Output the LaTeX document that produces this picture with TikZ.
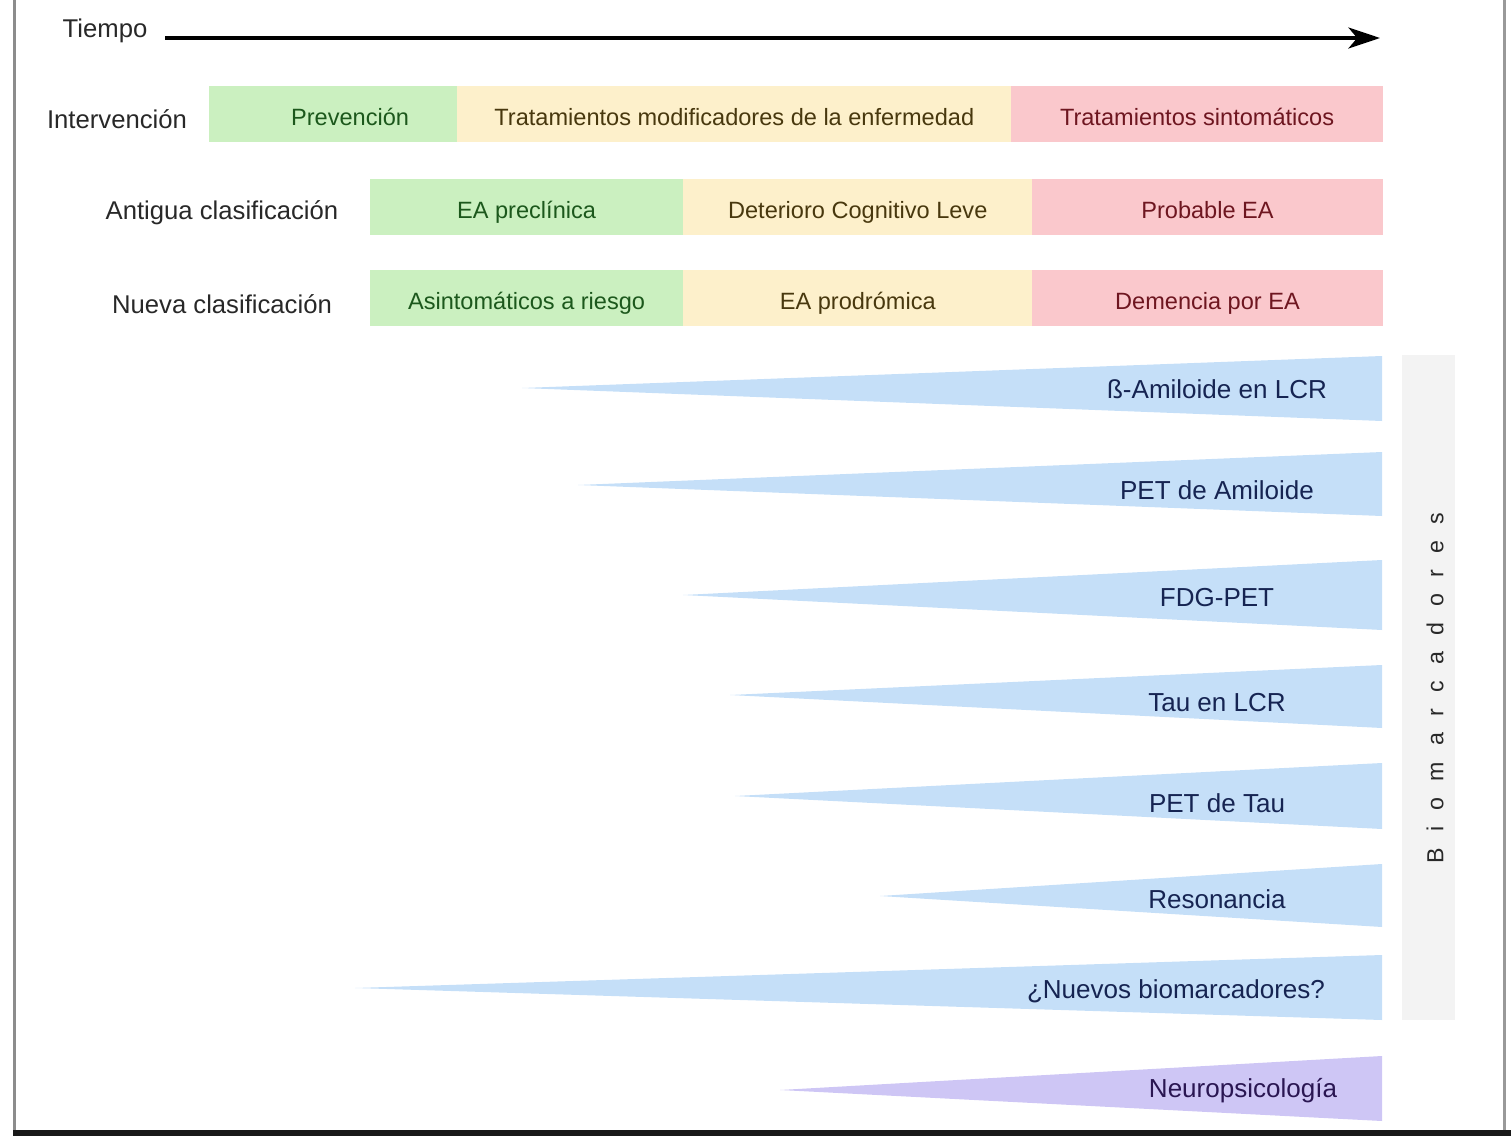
\documentclass[tikz,border=0pt]{standalone}
\usepackage{fontspec}
\setmainfont{Liberation Sans}
\usetikzlibrary{arrows,arrows.meta,positioning,calc}

\definecolor{bandgreen}{RGB}{203,240,192}
\definecolor{bandyellow}{RGB}{253,240,203}
\definecolor{bandred}{RGB}{250,200,204}
\definecolor{markblue}{RGB}{197,223,248}
\definecolor{markpurple}{RGB}{206,198,245}
\definecolor{panelgray}{RGB}{243,243,243}
\definecolor{textgreen}{RGB}{28,88,28}
\definecolor{textyellow}{RGB}{72,56,14}
\definecolor{textred}{RGB}{110,22,32}
\definecolor{textblue}{RGB}{22,36,82}
\definecolor{textpurple}{RGB}{42,22,82}
\definecolor{labelgray}{RGB}{40,40,40}

\begin{document}
\begin{tikzpicture}[
  x=0.01cm, y=-0.01cm,
  every node/.style={align=center,inner sep=0pt,outer sep=0pt},
  label/.style={font=\fontsize{7.3}{9}\selectfont,text=labelgray},
  band/.style={anchor=west,minimum height=0.56cm,text height=7.3pt,text depth=0.8pt,
    font=\fontsize{6.7}{8}\selectfont},
  green band/.style={band,fill=bandgreen,text=textgreen},
  yellow band/.style={band,fill=bandyellow,text=textyellow},
  red band/.style={band,fill=bandred,text=textred},
  marker/.style={font=\fontsize{7.4}{9}\selectfont,text=textblue},
  to/.style={->,>={Stealth[length=9pt,width=6pt,inset=2.5pt]},line width=0.9pt}]

  \useasboundingbox (0,0) rectangle (1511,1136);

  % Rahmen
  \fill[black!45] (13,0) rectangle (16,1130);
  \fill[black!40] (1503,0) rectangle (1506,1130);
  \fill[black!90] (13,1130) rectangle (1511,1136);

  % Zeitachse
  \node[label] (tiempo) at (105,31) {Tiempo};
  \coordinate (tstart) at (165,38);
  \coordinate (tend) at (1380,38);
  \draw[to] (tstart) -- (tend);

  % Intervention
  \node[label] (interv) at (117,119) {Intervención};
  \node[green band, minimum width=2.48cm] (prev) at (209,114)
      {\hspace*{0.34cm}Prevención};
  \node[yellow band, minimum width=5.54cm, right=0pt of prev] (modif)
      {Tratamientos modificadores de la enfermedad};
  \node[red band, minimum width=3.71cm, right=0pt of modif] (sint)
      {Tratamientos sintomáticos};

  % alte Klassifikation
  \node[label] (antigua) at (222,213) {Antigua clasificación};
  \node[green band, minimum width=3.13cm] (precl) at (370,207) {EA preclínica};
  \node[yellow band, minimum width=3.49cm, right=0pt of precl] (dcl)
      {Deterioro Cognitivo Leve};
  \node[red band, minimum width=3.50cm, right=0pt of dcl] (probable)
      {Probable EA};

  % neue Klassifikation
  \node[label] (nueva) at (222,304) {Nueva clasificación};
  \node[green band, minimum width=3.13cm] (asint) at (370,298)
      {Asintomáticos a riesgo};
  \node[yellow band, minimum width=3.49cm, right=0pt of asint] (prodr)
      {EA prodrómica};
  \node[red band, minimum width=3.50cm, right=0pt of prodr] (demencia)
      {Demencia por EA};

  % Biomarker
  \fill[panelgray] (1402,355) rectangle (1455,1020);
  \node[rotate=90,text=labelgray,
      font=\fontsize{6.6}{8}\selectfont\addfontfeature{LetterSpace=70}]
      (bio) at (1435,688) {Biomarcadores};

  \fill[markblue] (522,388) -- (1382,356) -- (1382,421) -- cycle;
  \node[marker] (amil) at (1217,389) {ß-Amiloide en LCR};

  \fill[markblue] (578,485) -- (1382,452) -- (1382,516) -- cycle;
  \node[marker] (petam) at (1217,490) {PET de Amiloide};

  \fill[markblue] (683,595) -- (1382,560) -- (1382,630) -- cycle;
  \node[marker] (fdg) at (1217,598) {FDG-PET};

  \fill[markblue] (730,695) -- (1382,665) -- (1382,728) -- cycle;
  \node[marker] (taulcr) at (1217,703) {Tau en LCR};

  \fill[markblue] (735,796) -- (1382,763) -- (1382,829) -- cycle;
  \node[marker] (pettau) at (1217,803) {PET de Tau};

  \fill[markblue] (880,896) -- (1382,864) -- (1382,927) -- cycle;
  \node[marker] (reson) at (1217,899) {Resonancia};

  \fill[markblue] (355,988) -- (1382,955) -- (1382,1020) -- cycle;
  \node[marker] (nuevos) at (1176,991) {¿Nuevos biomarcadores?};

  % Neuropsychologie
  \fill[markpurple] (780,1090) -- (1382,1056) -- (1382,1121) -- cycle;
  \node[marker,text=textpurple] (neuro) at (1243,1091) {Neuropsicología};

\end{tikzpicture}
\end{document}
